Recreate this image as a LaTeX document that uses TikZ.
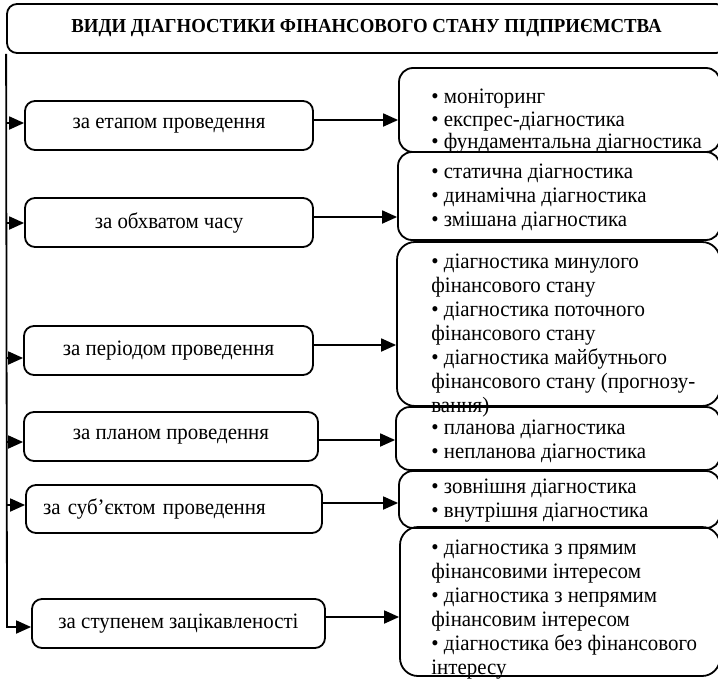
\documentclass[tikz,border=0pt]{standalone}
\usepackage{fontspec}
\setmainfont{Liberation Serif}[FakeStretch=0.95]
\usetikzlibrary{arrows.meta}
\tikzset{
  kind/.style = {draw, line width=0.9pt, rounded corners=5pt, inner sep=0pt,
    minimum height=24.5pt, align=center, font=\fontsize{11}{12}\selectfont},
  list/.style = {draw, line width=0.9pt, rounded corners=7pt, inner sep=0pt},
  items/.style = {anchor=north west, inner sep=0pt, align=left,
    font=\fontsize{11}{12}\selectfont, execute at begin node=\strut},
  link/.style = {-{Triangle[length=7.5pt,width=6.5pt]}, line width=0.9pt}
}

\begin{document}
\begin{tikzpicture}[x=0.5pt,y=-0.5pt]
  \useasboundingbox (0,0) rectangle (718,680);
  %
  \node[kind, minimum width=359.5pt, font=\fontsize{9.9}{12}\selectfont\bfseries]
    (title) at (366.5,28.5) {ВИДИ ДІАГНОСТИКИ ФІНАНСОВОГО СТАНУ ПІДПРИЄМСТВА};
  % kinds
  \node[kind, minimum width=144pt] (c1) at (169,125.5) {за етапом проведення};
  \node[kind, minimum width=144pt] (c2) at (169,222.5) {за обхватом часу};
  \node[kind, minimum width=144.5pt] (c3) at (168.5,350.5) {за періодом проведення};
  \node[kind, minimum width=147pt] (c4) at (171,436.5) {за планом проведення};
  \node[kind, minimum height=24pt, inner xsep=8.5pt, text width=131pt, align=left]
    (c5) at (174,509) {за суб’єктом проведення};
  \node[kind, minimum width=146.5pt] (c6) at (178.5,623.5) {за ступенем зацікавленості};
  % lists
  \node[list, minimum width=160.5pt, minimum height=42pt] (b1) at (559.5,110) {};
  \node[list, minimum width=161pt, minimum height=44pt] (b2) at (559,196) {};
  \node[list, minimum width=161.5pt, minimum height=82pt, rounded corners=9pt] (b3) at (558.5,324) {};
  \node[list, minimum width=162pt, minimum height=31.5pt] (b4) at (558,438.5) {};
  \node[list, minimum width=160.5pt, minimum height=28.5pt] (b5) at (559.5,499.5) {};
  \node[list, minimum width=160pt, minimum height=74.5pt, rounded corners=9pt] (b6) at (560,601.5) {};
  %
  \node[items, font=\fontsize{11}{11.3}\selectfont] (t1) at (431,88.7)
    {• моніторинг\\• експрес-діагностика\\• фундаментальна діагностика};
  \node[items] (t2) at (431,163.7)
    {• статична діагностика\\• динамічна діагностика\\• змішана діагностика};
  \node[items] (t3) at (431,253.7)
    {• діагностика минулого\\фінансового стану\\• діагностика поточного\\фінансового стану\\%
     • діагностика майбутнього\\фінансового стану (прогнозу-\\вання)};
  \node[items] (t4) at (431,419.7)
    {• планова діагностика\\• непланова діагностика};
  \node[items] (t5) at (431,478.7)
    {• зовнішня діагностика\\• внутрішня діагностика};
  \node[items] (t6) at (431,539.7)
    {• діагностика з прямим\\фінансовими інтересом\\• діагностика з непрямим\\фінансовим інтересом\\%
     • діагностика без фінансового\\інтересу};
  % trunk
  \coordinate (s1) at (7,123);
  \coordinate (s2) at (7,223);
  \coordinate (s3) at (7,358);
  \coordinate (s4) at (7,442);
  \coordinate (s5) at (7,505);
  \coordinate (s6) at (7,627);
  \draw[link] (title.south west) -- (s6) -- (c6.west |- s6);
  \draw[link] (s1) -- (c1.west |- s1);
  \draw[link] (s2) -- (c2.west |- s2);
  \draw[link] (s3) -- (c3.west |- s3);
  \draw[link] (s4) -- (c4.west |- s4);
  \draw[link] (s5) -- (c5.west |- s5);
  % kinds to lists
  \coordinate (r1) at (0,120);
  \coordinate (r2) at (0,217);
  \coordinate (r3) at (0,345);
  \coordinate (r4) at (0,440);
  \coordinate (r5) at (0,503);
  \coordinate (r6) at (0,617);
  \draw[link] (c1.east |- r1) -- (b1.west |- r1);
  \draw[link] (c2.east |- r2) -- (b2.west |- r2);
  \draw[link] (c3.east |- r3) -- (b3.west |- r3);
  \draw[link] (c4.east |- r4) -- (b4.west |- r4);
  \draw[link] (c5.east |- r5) -- (b5.west |- r5);
  \draw[link] (c6.east |- r6) -- (b6.west |- r6);
\end{tikzpicture}
\end{document}
